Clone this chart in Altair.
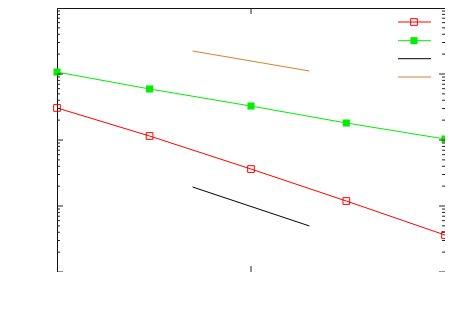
import altair as alt
import pandas as pd

# ---- data (log-log plot, no labels) ----
x_pts = [1, 3.0, 10, 31, 100]
red_y = [0.0306, 0.0115, 0.00363, 0.00119, 0.000363]
green_y = [0.107, 0.0593, 0.0327, 0.0181, 0.01035]
ref_x = [5, 20]
black_y = [0.00194, 0.000498]
orange_y = [0.223, 0.111]

# tick positions
x_major = [10]
y_major = [1e-4, 1e-3, 1e-2, 1e-1, 1]
y_minor = [m * 10.0 ** d for d in range(-4, 0) for m in range(2, 10)]

W, H = 388, 264
RED, GREEN, BLACK, ORANGE = "#ff0000", "#00ee00", "#000000", "#d9822b"

xs = alt.Scale(type="log", domain=[1, 100])
ys = alt.Scale(type="log", domain=[1e-4, 1])


def X(f="x"):
    return alt.X(f + ":Q", scale=xs, axis=None)


def Y(f="y"):
    return alt.Y(f + ":Q", scale=ys, axis=None)


red_df = pd.DataFrame({"x": x_pts, "y": red_y})
green_df = pd.DataFrame({"x": x_pts, "y": green_y})
black_df = pd.DataFrame({"x": ref_x, "y": black_y})
orange_df = pd.DataFrame({"x": ref_x, "y": orange_y})

layers = []
layers.append(alt.Chart(red_df).mark_line(color=RED, strokeWidth=1).encode(x=X(), y=Y()))
layers.append(alt.Chart(red_df).mark_point(shape="square", filled=False, color=RED, size=45,
                                            strokeWidth=1, opacity=1).encode(x=X(), y=Y()))
layers.append(alt.Chart(green_df).mark_line(color=GREEN, strokeWidth=1).encode(x=X(), y=Y()))
layers.append(alt.Chart(green_df).mark_point(shape="square", filled=True, color=GREEN, size=50,
                                              opacity=1).encode(x=X(), y=Y()))
layers.append(alt.Chart(black_df).mark_line(color=BLACK, strokeWidth=1).encode(x=X(), y=Y()))
layers.append(alt.Chart(orange_df).mark_line(color=ORANGE, strokeWidth=1).encode(x=X(), y=Y()))

# inward ticks
ymaj = pd.DataFrame({"y": y_major})
ymin = pd.DataFrame({"y": y_minor})
xmaj = pd.DataFrame({"x": x_major})
tick_col = "#222222"
layers.append(alt.Chart(ymaj).mark_rule(color=tick_col).encode(y=Y(), x=alt.value(0), x2=alt.value(6)))
layers.append(alt.Chart(ymaj).mark_rule(color=tick_col).encode(y=Y(), x=alt.value(W - 6), x2=alt.value(W)))
layers.append(alt.Chart(ymin).mark_rule(color=tick_col).encode(y=Y(), x=alt.value(0), x2=alt.value(3)))
layers.append(alt.Chart(ymin).mark_rule(color=tick_col).encode(y=Y(), x=alt.value(W - 3), x2=alt.value(W)))
layers.append(alt.Chart(xmaj).mark_rule(color=tick_col).encode(x=X(), y=alt.value(H - 6), y2=alt.value(H)))
layers.append(alt.Chart(xmaj).mark_rule(color=tick_col).encode(x=X(), y=alt.value(0), y2=alt.value(6)))

# legend keys (top right, no text)
one = pd.DataFrame({"a": [0]})
leg = [(14, RED, "open"), (32.7, GREEN, "filled"), (50.7, BLACK, None), (69, ORANGE, None)]
for ly, col, mk in leg:
    layers.append(alt.Chart(one).mark_rule(color=col, strokeWidth=1).encode(
        x=alt.value(341), x2=alt.value(374), y=alt.value(ly)))
    if mk == "open":
        layers.append(alt.Chart(one).mark_point(shape="square", filled=False, color=col, size=45,
                                                strokeWidth=1, opacity=1).encode(
            x=alt.value(357), y=alt.value(ly)))
    elif mk == "filled":
        layers.append(alt.Chart(one).mark_point(shape="square", filled=True, color=col, size=50,
                                                opacity=1).encode(
            x=alt.value(357), y=alt.value(ly)))

chart = alt.layer(*layers).properties(
    width=W, height=H,
    autosize=alt.AutoSizeParams(type="none"),
    padding={"left": 49, "top": 0, "right": 0, "bottom": 0},
).configure_view(stroke="#111111", strokeWidth=1)

chart.save("out.html", embed_options={"renderer": "svg", "actions": False})
